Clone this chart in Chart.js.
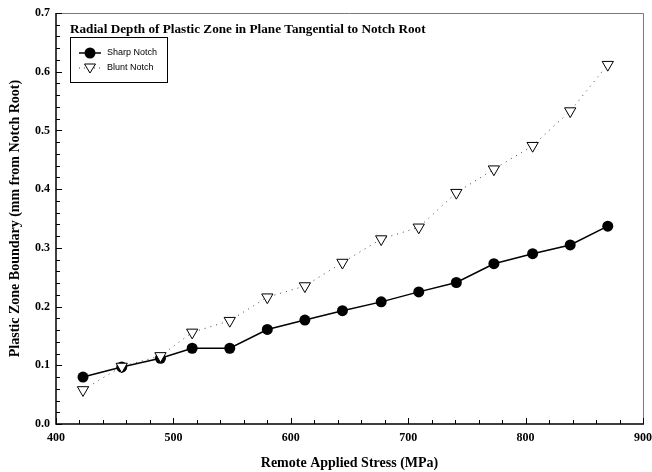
<!DOCTYPE html>
<html>
<head>
<meta charset="utf-8">
<script src="https://cdn.jsdelivr.net/npm/chart.js@4/dist/chart.umd.min.js"></script>
<style>
  html, body { margin: 0; padding: 0; background: #fff; }
  #wrap { width: 652px; height: 472px; position: relative; }
</style>
</head>
<body>
<div id="wrap"><canvas id="c" width="652" height="472"></canvas></div>
<script>
// ---- data ----
const stress = [423, 456, 489, 516, 548, 580, 612, 644, 677, 709, 741, 773, 806, 838, 870];
const sharpNotch = [0.080, 0.097, 0.112, 0.129, 0.129, 0.161, 0.177, 0.193, 0.208, 0.225, 0.241, 0.273, 0.290, 0.305, 0.337];
const bluntNotch = [0.058, 0.098, 0.116, 0.156, 0.176, 0.216, 0.235, 0.275, 0.315, 0.335, 0.394, 0.434, 0.474, 0.533, 0.612];
const seriesNames = ['Sharp Notch', 'Blunt Notch'];
const chartTitle = 'Radial Depth of Plastic Zone in Plane Tangential to Notch Root';
const xTitle = 'Remote Applied Stress (MPa)';
const yTitle = 'Plastic Zone Boundary (mm from Notch Root)';
const xRange = [400, 900];
const yRange = [0, 0.7];

const serif = '"Liberation Serif", "DejaVu Serif", serif';
const sans = '"Liberation Sans", Arial, sans-serif';

const frame = {
  id: 'frame',
  afterDatasetsDraw(chart) {
    const { ctx, chartArea: a, scales: { x, y } } = chart;
    ctx.save();
    // top/right frame
    ctx.lineWidth = 1;
    ctx.strokeStyle = '#7a7a7a';
    ctx.beginPath();
    ctx.moveTo(a.left, a.top + 0.5); ctx.lineTo(a.right + 0.5, a.top + 0.5);
    ctx.lineTo(a.right + 0.5, a.bottom);
    ctx.stroke();
    // left/bottom axes
    ctx.strokeStyle = '#000';
    ctx.lineWidth = 1.5;
    ctx.beginPath();
    ctx.moveTo(a.left, a.top); ctx.lineTo(a.left, a.bottom); ctx.lineTo(a.right + 1, a.bottom);
    ctx.stroke();
    // ticks (inside)
    ctx.lineWidth = 1;
    ctx.beginPath();
    for (let v = xRange[0]; v <= xRange[1]; v += 20) {
      const px = Math.round(x.getPixelForValue(v)) + 0.5;
      const len = (v % 100 === 0) ? 6 : 4;
      ctx.moveTo(px, a.bottom); ctx.lineTo(px, a.bottom - len);
    }
    for (let i = 0; i <= 35; i++) {
      const py = Math.round(y.getPixelForValue(i * 0.02)) + 0.5;
      const len = (i % 5 === 0) ? 6 : 4;
      ctx.moveTo(a.left, py); ctx.lineTo(a.left + len, py);
    }
    ctx.stroke();

    // title inside plot
    ctx.fillStyle = '#000';
    ctx.font = 'bold 13.2px ' + serif;
    ctx.textBaseline = 'middle';
    ctx.textAlign = 'left';
    ctx.fillText(chartTitle, 70, 30);

    // legend box
    const lx = 70, ly = 37, lw = 97, lh = 45;
    ctx.fillStyle = '#fff';
    ctx.fillRect(lx, ly, lw, lh);
    ctx.strokeStyle = '#000';
    ctx.lineWidth = 1;
    ctx.strokeRect(lx + 0.5, ly + 0.5, lw, lh);
    // sharp
    ctx.lineWidth = 1.5;
    ctx.beginPath(); ctx.moveTo(79, 53); ctx.lineTo(101, 53); ctx.stroke();
    ctx.fillStyle = '#000';
    ctx.beginPath(); ctx.arc(90, 53, 5.5, 0, Math.PI * 2); ctx.fill();
    // blunt
    ctx.lineWidth = 1;
    ctx.setLineDash([1, 4]);
    ctx.strokeStyle = '#444';
    ctx.beginPath(); ctx.moveTo(79, 68); ctx.lineTo(101, 68); ctx.stroke();
    ctx.setLineDash([]);
    ctx.strokeStyle = '#000';
    ctx.fillStyle = '#fff';
    ctx.beginPath(); ctx.moveTo(84.5, 64); ctx.lineTo(95.5, 64); ctx.lineTo(90, 73); ctx.closePath();
    ctx.fill(); ctx.stroke();
    ctx.fillStyle = '#000';
    ctx.font = '9px ' + sans;
    ctx.fillText(seriesNames[0], 107, 53);
    ctx.fillText(seriesNames[1], 107, 68);
    ctx.restore();
  }
};

new Chart(document.getElementById('c'), {
  type: 'line',
  data: {
    labels: stress,
    datasets: [
      {
        label: seriesNames[0],
        data: stress.map((s, i) => ({ x: s, y: sharpNotch[i] })),
        borderColor: '#000',
        backgroundColor: '#000',
        borderWidth: 1.5,
        pointStyle: 'circle',
        pointRadius: 5.5,
        pointBorderWidth: 0,
        pointBackgroundColor: '#000',
        tension: 0,
        order: 2
      },
      {
        label: seriesNames[1],
        data: stress.map((s, i) => ({ x: s, y: bluntNotch[i] })),
        borderColor: '#444',
        borderWidth: 1,
        borderDash: [1, 5],
        pointStyle: 'triangle',
        rotation: 180,
        pointRadius: 6.5,
        pointBorderWidth: 1,
        pointBorderColor: '#000',
        pointBackgroundColor: '#fff',
        tension: 0,
        order: 1
      }
    ]
  },
  options: {
    responsive: false,
    animation: false,
    devicePixelRatio: 1,
    layout: { padding: { top: 13, right: 9, left: 0, bottom: 0 } },
    plugins: { legend: { display: false }, tooltip: { enabled: false }, title: { display: false } },
    scales: {
      x: {
        type: 'linear',
        min: xRange[0], max: xRange[1],
        grid: { display: false, drawTicks: false },
        border: { display: false },
        ticks: {
          stepSize: 100,
          padding: 7,
          color: '#000',
          font: { family: serif, weight: 'bold', size: 12 },
          maxRotation: 0
        },
        title: {
          display: true, text: xTitle, color: '#000',
          font: { family: serif, weight: 'bold', size: 14 },
          padding: { top: 0, bottom: 0 }
        },
        afterFit(s) { s.height = 48; s.paddingLeft = 0; s.paddingRight = 0; }
      },
      y: {
        type: 'linear',
        min: yRange[0], max: yRange[1],
        grid: { display: false, drawTicks: false },
        border: { display: false },
        ticks: {
          stepSize: 0.1,
          padding: 6,
          color: '#000',
          font: { family: serif, weight: 'bold', size: 12 },
          callback: v => Number(v).toFixed(1)
        },
        title: {
          display: true, text: yTitle, color: '#000',
          font: { family: serif, weight: 'bold', size: 14 },
          padding: { top: 7, bottom: 0 }
        },
        afterFit(s) { s.width = 56; s.paddingTop = 0; s.paddingBottom = 0; }
      }
    }
  },
  plugins: [frame]
});
</script>
</body>
</html>
